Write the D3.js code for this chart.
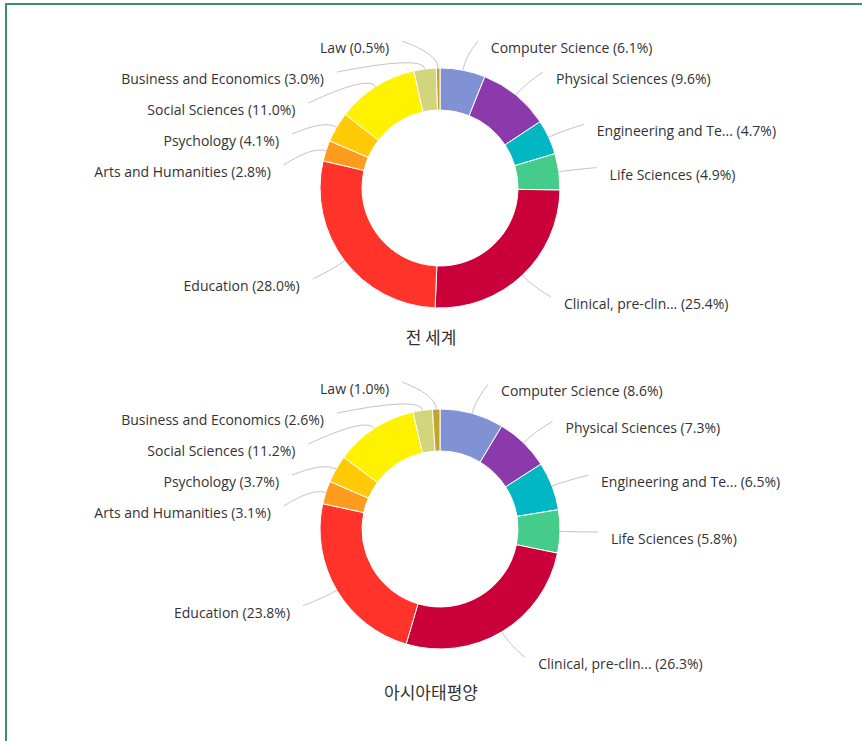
<!DOCTYPE html>
<html>
<head>
<meta charset="utf-8">
<script src="https://cdn.jsdelivr.net/npm/d3@7"></script>
<style>
  body { margin: 0; background: #fff; }
  svg { display: block; }
  .lbl { font-family: "Open Sans", "Noto Sans", sans-serif; font-size: 14px; fill: #333; }
  .title { font-family: "Noto Sans CJK KR", sans-serif; font-size: 17px; fill: #333; }
</style>
</head>
<body>
<div id="chart"></div>
<script>
const categories = [
  "Computer Science", "Physical Sciences", "Engineering and Te...", "Life Sciences",
  "Clinical, pre-clin...", "Education", "Arts and Humanities", "Psychology",
  "Social Sciences", "Business and Economics", "Law"
];
const worldValues = [6.1, 9.6, 4.7, 4.9, 25.4, 28.0, 2.8, 4.1, 11.0, 3.0, 0.5];
const apacValues = [8.6, 7.3, 6.5, 5.8, 26.3, 23.8, 3.1, 3.7, 11.2, 2.6, 1.0];
const colors = [
  "#8092d4", "#8a3aaa", "#00b7c3", "#45cc8a", "#c9003a", "#ff3329",
  "#ff9c1e", "#ffc905", "#fff200", "#d2d57c", "#c4a52c"
];
const titles = ["전 세계", "아시아태평양"];

const width = 862, height = 741;
const outerR = 120, innerR = 78, labelDist = 30;

const svg = d3.select("#chart").append("svg")
  .attr("width", width).attr("height", height);

// frame: top and left green rule
svg.append("line").attr("x1", 5).attr("x2", width).attr("y1", 4).attr("y2", 4)
  .attr("stroke", "#3b8f6b").attr("stroke-width", 2);
svg.append("line").attr("x1", 6).attr("x2", 6).attr("y1", 4).attr("y2", height)
  .attr("stroke", "#3b8f6b").attr("stroke-width", 2);

const color = d3.scaleOrdinal().domain(categories).range(colors);
const pie = d3.pie().sort(null).value(d => d.value);
const arc = d3.arc().innerRadius(innerR).outerRadius(outerR);

function drawDonut(values, cx, cy, title, titleY) {
  const data = categories.map((c, i) => ({ name: c, value: values[i] }));
  const arcs = pie(data);
  const g = svg.append("g").attr("transform", `translate(${cx},${cy})`);

  g.selectAll("path.slice").data(arcs).join("path")
    .attr("class", "slice")
    .attr("d", arc)
    .attr("fill", d => color(d.data.name))
    .attr("stroke", "#fff")
    .attr("stroke-width", 1);

  // label layout, one column per side, pushed down to avoid overlap
  const L = outerR + labelDist;
  const labels = arcs.map(a => {
    const mid = (a.startAngle + a.endAngle) / 2;
    return {
      a, mid,
      right: mid < Math.PI,
      y: -Math.cos(mid) * L + 7
    };
  });
  [true, false].forEach(side => {
    const col = labels.filter(l => l.right === side).sort((p, q) => p.y - q.y);
    let prev = -Infinity;
    col.forEach(l => {
      l.y = Math.max(l.y, prev + 31, -140);
      prev = l.y;
    });
  });
  labels.forEach(l => {
    const ey = l.y - 7;
    const dx = Math.sqrt(Math.max(0, L * L - ey * ey));
    const s = l.right ? 1 : -1;
    l.ex = s * (dx + 8);
    l.ey = ey;
    l.tx = s * (dx + 21);
    l.sx = Math.sin(l.mid) * outerR;
    l.sy = -Math.cos(l.mid) * outerR;
    l.qx = Math.sin(l.mid) * (outerR + 14);
    l.qy = -Math.cos(l.mid) * (outerR + 14);
  });

  g.selectAll("path.conn").data(labels).join("path")
    .attr("class", "conn")
    .attr("d", l => `M${l.sx},${l.sy}Q${l.qx},${l.qy} ${l.ex},${l.ey}`)
    .attr("fill", "none")
    .attr("stroke", "#c4c4c4")
    .attr("stroke-width", 1);

  g.selectAll("text.lbl").data(labels).join("text")
    .attr("class", "lbl")
    .attr("x", l => l.tx)
    .attr("y", l => l.y)
    .attr("dy", "0.35em")
    .attr("text-anchor", l => l.right ? "start" : "end")
    .text(l => `${l.a.data.name} (${l.a.data.value.toFixed(1)}%)`);

  svg.append("text").attr("class", "title")
    .attr("x", 431).attr("y", titleY)
    .attr("text-anchor", "middle").attr("dy", "0.35em")
    .text(title);
}

drawDonut(worldValues, 440, 188, titles[0], 338);
drawDonut(apacValues, 440, 529, titles[1], 693);
</script>
</body>
</html>
